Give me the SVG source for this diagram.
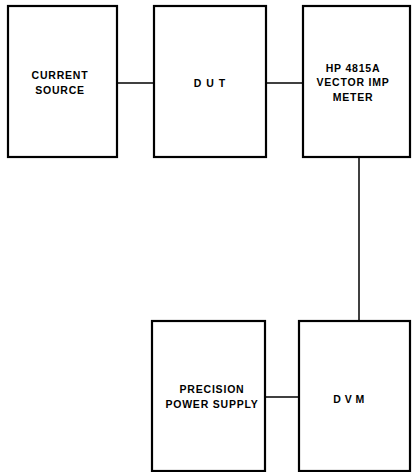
<svg xmlns="http://www.w3.org/2000/svg" width="412" height="472" viewBox="0 0 412 472">
<style>
.box{fill:#fff;stroke:#000;stroke-width:2.2}
.ln{stroke:#000;stroke-width:1.5;fill:none}
text{font-family:"Liberation Sans",Arial,sans-serif;font-weight:bold;font-size:10.5px;letter-spacing:0.8px;text-anchor:middle;fill:#000}
</style>
<rect width="412" height="472" fill="#fff"/>
<g id="connectors">
<line class="ln" x1="117" y1="83" x2="154" y2="83"/>
<line class="ln" x1="266" y1="83" x2="303" y2="83"/>
<line class="ln" x1="359" y1="157" x2="359" y2="321"/>
<line class="ln" x1="265" y1="397" x2="299" y2="397"/>
</g>
<g id="current-source">
<rect class="box" x="8" y="6" width="109" height="151"/>
<text x="60" y="79">CURRENT</text>
<text x="60" y="94">SOURCE</text>
</g>
<g id="dut">
<rect class="box" x="154" y="6" width="112" height="151"/>
<text x="210" y="87" style="letter-spacing:1px">D U T</text>
</g>
<g id="hp4815a">
<rect class="box" x="303" y="6" width="107" height="151"/>
<text x="353" y="72">HP 4815A</text>
<text x="353" y="86">VECTOR IMP</text>
<text x="353" y="101">METER</text>
</g>
<g id="precision-power-supply">
<rect class="box" x="152" y="321" width="113" height="150"/>
<text x="212" y="393">PRECISION</text>
<text x="212" y="408">POWER SUPPLY</text>
</g>
<g id="dvm">
<rect class="box" x="299" y="321" width="111" height="150"/>
<text x="349" y="403" style="letter-spacing:0.5px">D V M</text>
</g>
</svg>
